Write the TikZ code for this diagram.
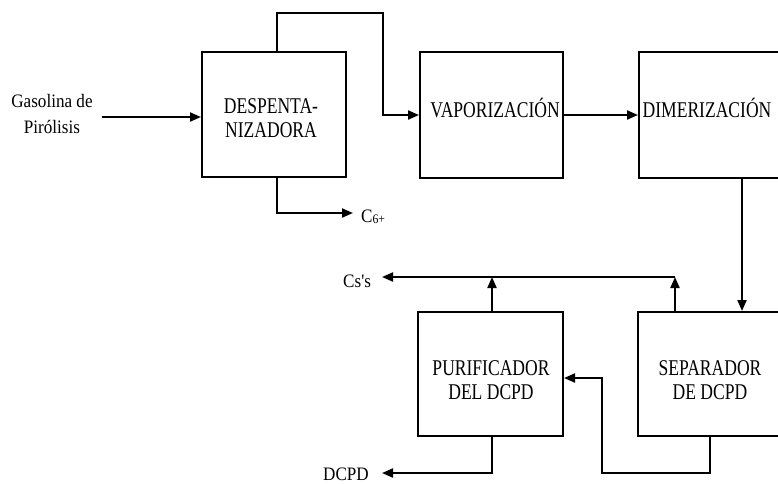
\documentclass[tikz,border=0pt]{standalone}
\usepackage{fontspec}
\setmainfont{Liberation Serif}
\newfontfamily\boxfont[FakeStretch=0.78]{Liberation Serif}
\newfontfamily\labfont[FakeStretch=0.9]{Liberation Serif}
\usetikzlibrary{arrows.meta}
\begin{document}
\begin{tikzpicture}[x=1pt,y=-1pt,
  blk/.style={draw,line width=2pt,inner sep=0pt},
  flow/.style={line width=2pt,-{Triangle[length=11pt,width=9pt]}},
  btxt/.style={font=\boxfont\fontsize{22.5}{24}\selectfont,align=center,inner sep=0pt},
  ltxt/.style={font=\labfont\fontsize{19}{26}\selectfont,align=center,inner sep=0pt}]
\clip (0,0) rectangle (778,483);
% boxes
\node[blk,minimum width=144pt,minimum height=125pt] (D) at (274,114.5) {};
\node[blk,minimum width=143pt,minimum height=126pt] (V) at (491.5,115) {};
\node[blk,minimum width=161pt,minimum height=126pt] (M) at (719.5,115) {};
\node[blk,minimum width=145pt,minimum height=124pt] (P) at (490.5,374) {};
\node[blk,minimum width=162pt,minimum height=124pt] (S) at (719,374) {};
% box texts
\node[btxt] (tD) at (271,118) {DESPENTA-\\NIZADORA};
\node[btxt,anchor=base] (tV) at (495,117) {VAPORIZACIÓN};
\node[btxt,anchor=base] (tM) at (707,117) {DIMERIZACIÓN};
\node[btxt] (tP) at (491,380) {PURIFICADOR\\DEL DCPD};
\node[btxt] (tS) at (710,380) {SEPARADOR\\DE DCPD};
% outer labels
\node[ltxt] (gas) at (52,114) {Gasolina de\\Pirólisis};
\node[ltxt,anchor=base west] (c6) at (361,222) {C\raisebox{-1pt}{\fontsize{13}{13}\selectfont 6+}};
\node[ltxt,anchor=base west] (c5) at (343,287) {Cs's};
\node[ltxt,anchor=base west] (dcpd) at (323,480) {DCPD};
% coordinates
\coordinate (in) at (102,117);
\coordinate (b1) at (277,13);
\coordinate (b2) at (383,13);
\coordinate (c6e) at (353,213);
\coordinate (mx) at (742,0);
\coordinate (sx) at (675,277);
\coordinate (px) at (492,277);
\coordinate (c5e) at (382,277);
\coordinate (de) at (382,473);
\coordinate (r1) at (710,473);
\coordinate (r2) at (602,378);
% connectors
\draw[flow] (in) -- (in -| D.west);
\draw[flow] (b1 |- D.north) -- (b1) -- (b2) |- (V.west);
\draw[flow] (b1 |- D.south) |- (c6e);
\draw[flow] (V.east) -- (M.west);
\draw[flow] (mx |- M.south) -- (mx |- S.north);
\draw[flow] (sx |- S.north) -- (sx);
\draw[flow] (px |- P.north) -- (px);
\draw[flow] (sx) -- (c5e);
\draw[flow] (px |- P.south) |- (de);
\draw[flow] (r1 |- S.south) |- (r2 |- de) -- (r2) -- (r2 -| P.east);
\end{tikzpicture}
\end{document}
